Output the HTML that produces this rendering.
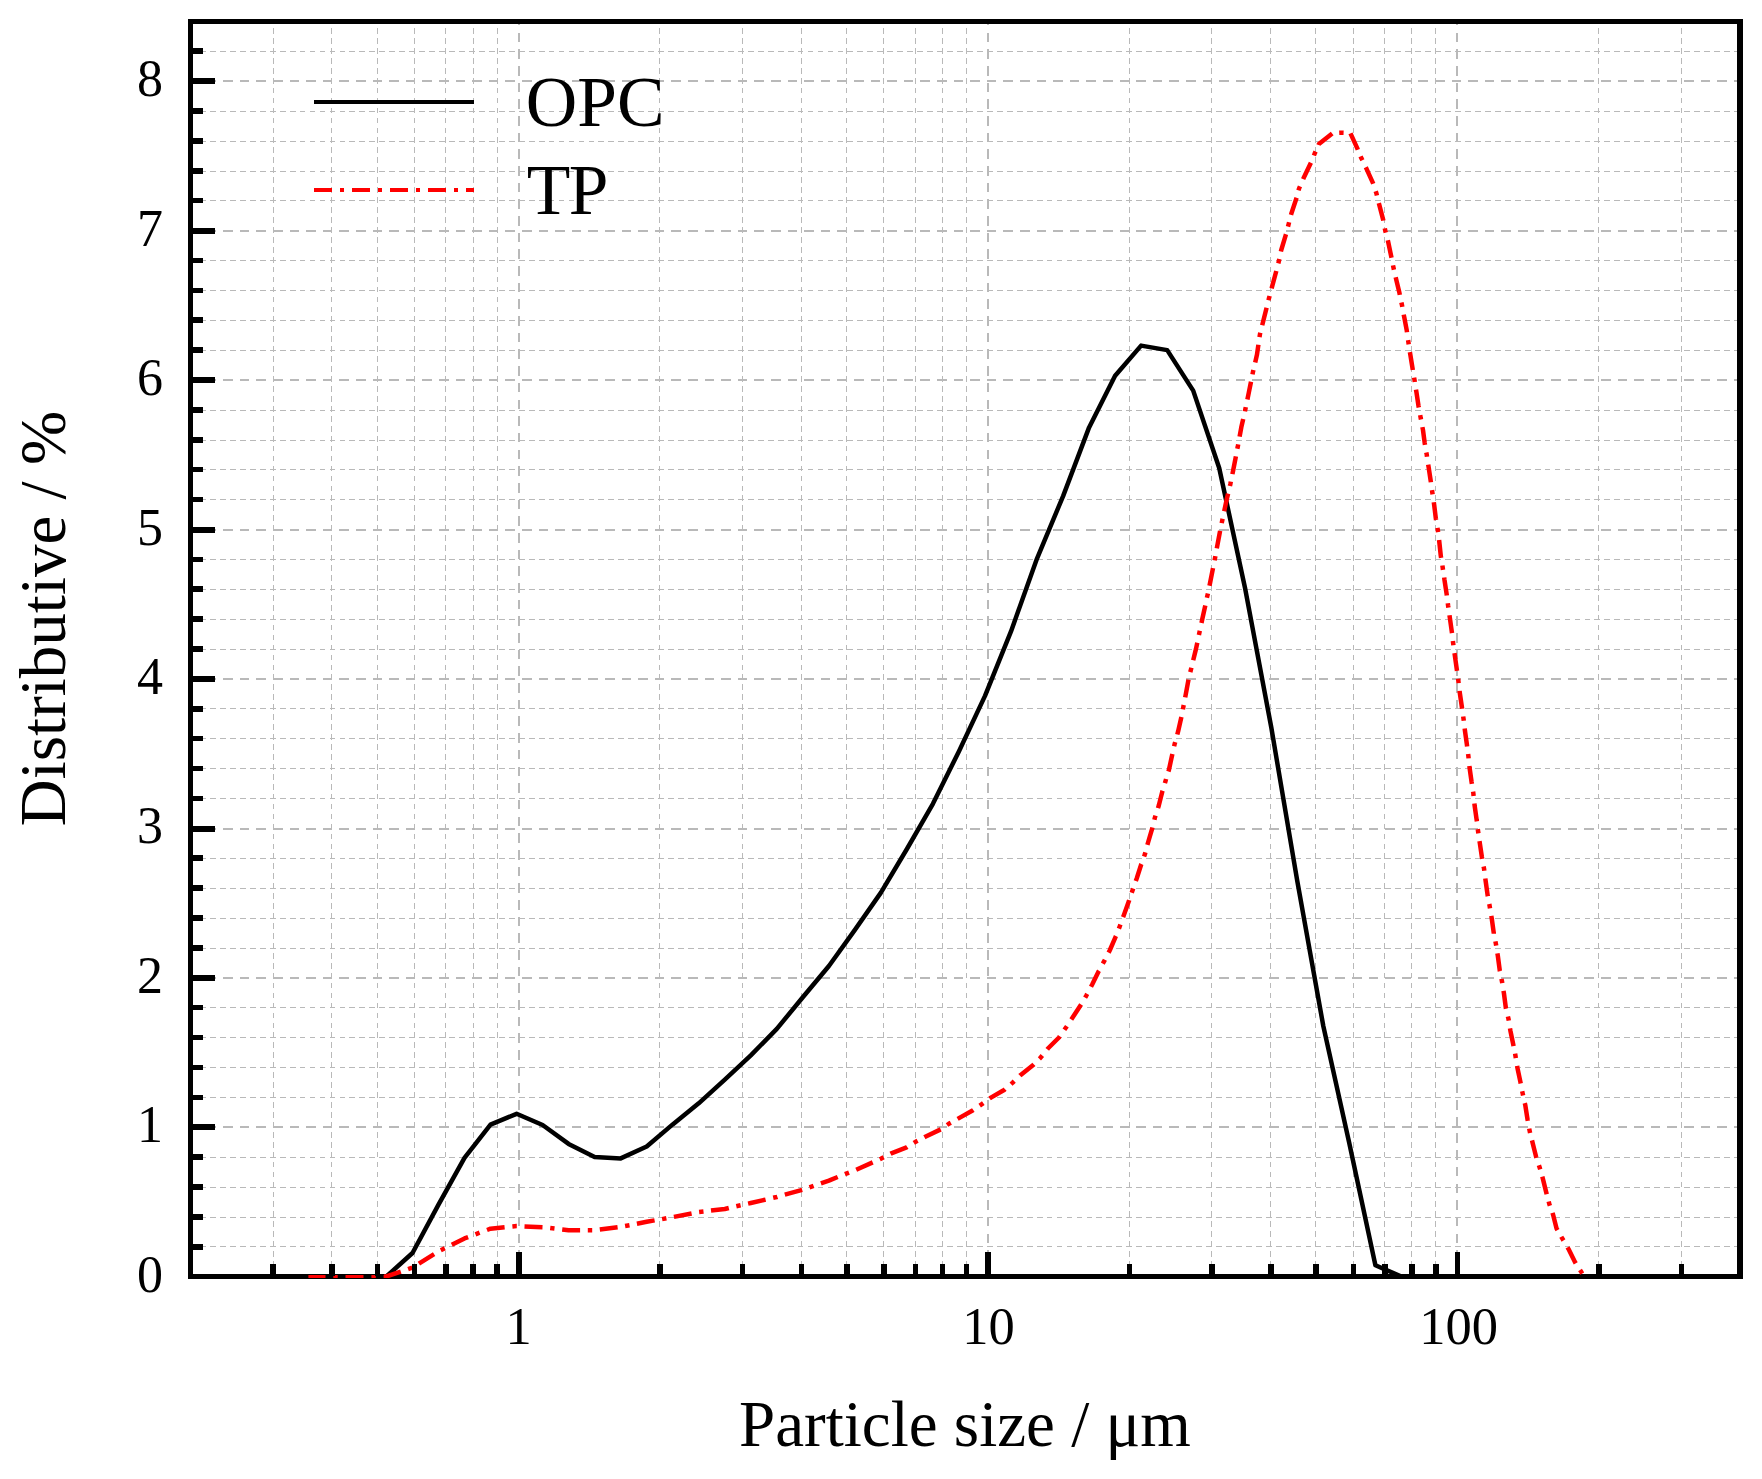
<!DOCTYPE html>
<html lang="en"><head><meta charset="utf-8"><title>Particle size distribution</title>
<style>html,body{margin:0;padding:0;background:#fff}svg{display:block}</style></head>
<body>
<svg width="1762" height="1479" viewBox="0 0 1762 1479">
<rect width="1762" height="1479" fill="#fff"/>
<g stroke="#b9b9b9" fill="none" shape-rendering="crispEdges">
<path d="M190.1,1246.5H1740" stroke-dasharray="5.8 4.16"/>
<path d="M190.1,1217.5H1740" stroke-dasharray="5.8 4.16"/>
<path d="M190.1,1187.5H1740" stroke-dasharray="5.8 4.16"/>
<path d="M190.1,1157.5H1740" stroke-dasharray="5.8 4.16"/>
<path d="M190,1127H1740" stroke-width="2" stroke-dasharray="9.6 7"/>
<path d="M190.1,1097.5H1740" stroke-dasharray="5.8 4.16"/>
<path d="M190.1,1067.5H1740" stroke-dasharray="5.8 4.16"/>
<path d="M190.1,1037.5H1740" stroke-dasharray="5.8 4.16"/>
<path d="M190.1,1007.5H1740" stroke-dasharray="5.8 4.16"/>
<path d="M190,978H1740" stroke-width="2" stroke-dasharray="9.6 7"/>
<path d="M190.1,948.5H1740" stroke-dasharray="5.8 4.16"/>
<path d="M190.1,918.5H1740" stroke-dasharray="5.8 4.16"/>
<path d="M190.1,888.5H1740" stroke-dasharray="5.8 4.16"/>
<path d="M190.1,858.5H1740" stroke-dasharray="5.8 4.16"/>
<path d="M190,829H1740" stroke-width="2" stroke-dasharray="9.6 7"/>
<path d="M190.1,798.5H1740" stroke-dasharray="5.8 4.16"/>
<path d="M190.1,768.5H1740" stroke-dasharray="5.8 4.16"/>
<path d="M190.1,738.5H1740" stroke-dasharray="5.8 4.16"/>
<path d="M190.1,708.5H1740" stroke-dasharray="5.8 4.16"/>
<path d="M190,679H1740" stroke-width="2" stroke-dasharray="9.6 7"/>
<path d="M190.1,649.5H1740" stroke-dasharray="5.8 4.16"/>
<path d="M190.1,619.5H1740" stroke-dasharray="5.8 4.16"/>
<path d="M190.1,589.5H1740" stroke-dasharray="5.8 4.16"/>
<path d="M190.1,559.5H1740" stroke-dasharray="5.8 4.16"/>
<path d="M190,530H1740" stroke-width="2" stroke-dasharray="9.6 7"/>
<path d="M190.1,499.5H1740" stroke-dasharray="5.8 4.16"/>
<path d="M190.1,469.5H1740" stroke-dasharray="5.8 4.16"/>
<path d="M190.1,440.5H1740" stroke-dasharray="5.8 4.16"/>
<path d="M190.1,410.5H1740" stroke-dasharray="5.8 4.16"/>
<path d="M190,380H1740" stroke-width="2" stroke-dasharray="9.6 7"/>
<path d="M190.1,350.5H1740" stroke-dasharray="5.8 4.16"/>
<path d="M190.1,320.5H1740" stroke-dasharray="5.8 4.16"/>
<path d="M190.1,290.5H1740" stroke-dasharray="5.8 4.16"/>
<path d="M190.1,260.5H1740" stroke-dasharray="5.8 4.16"/>
<path d="M190,231H1740" stroke-width="2" stroke-dasharray="9.6 7"/>
<path d="M190.1,200.5H1740" stroke-dasharray="5.8 4.16"/>
<path d="M190.1,171.5H1740" stroke-dasharray="5.8 4.16"/>
<path d="M190.1,141.5H1740" stroke-dasharray="5.8 4.16"/>
<path d="M190.1,111.5H1740" stroke-dasharray="5.8 4.16"/>
<path d="M190,81H1740" stroke-width="2" stroke-dasharray="9.6 7"/>
<path d="M190.1,51.5H1740" stroke-dasharray="5.8 4.16"/>
<path d="M273.5,1276.8V22" stroke-dasharray="5.7 4.244"/>
<path d="M331.5,1276.8V22" stroke-dasharray="5.7 4.244"/>
<path d="M377.5,1276.8V22" stroke-dasharray="5.7 4.244"/>
<path d="M414.5,1276.8V22" stroke-dasharray="5.7 4.244"/>
<path d="M445.5,1276.8V22" stroke-dasharray="5.7 4.244"/>
<path d="M473.5,1276.8V22" stroke-dasharray="5.7 4.244"/>
<path d="M497.5,1276.8V22" stroke-dasharray="5.7 4.244"/>
<path d="M519,1276.5V22" stroke-width="2" stroke-dasharray="9.6 7.08"/>
<path d="M659.5,1276.8V22" stroke-dasharray="5.7 4.244"/>
<path d="M742.5,1276.8V22" stroke-dasharray="5.7 4.244"/>
<path d="M801.5,1276.8V22" stroke-dasharray="5.7 4.244"/>
<path d="M846.5,1276.8V22" stroke-dasharray="5.7 4.244"/>
<path d="M883.5,1276.8V22" stroke-dasharray="5.7 4.244"/>
<path d="M915.5,1276.8V22" stroke-dasharray="5.7 4.244"/>
<path d="M942.5,1276.8V22" stroke-dasharray="5.7 4.244"/>
<path d="M966.5,1276.8V22" stroke-dasharray="5.7 4.244"/>
<path d="M988,1276.5V22" stroke-width="2" stroke-dasharray="9.6 7.08"/>
<path d="M1129.5,1276.8V22" stroke-dasharray="5.7 4.244"/>
<path d="M1211.5,1276.8V22" stroke-dasharray="5.7 4.244"/>
<path d="M1270.5,1276.8V22" stroke-dasharray="5.7 4.244"/>
<path d="M1315.5,1276.8V22" stroke-dasharray="5.7 4.244"/>
<path d="M1353.5,1276.8V22" stroke-dasharray="5.7 4.244"/>
<path d="M1384.5,1276.8V22" stroke-dasharray="5.7 4.244"/>
<path d="M1411.5,1276.8V22" stroke-dasharray="5.7 4.244"/>
<path d="M1435.5,1276.8V22" stroke-dasharray="5.7 4.244"/>
<path d="M1457,1276.5V22" stroke-width="2" stroke-dasharray="9.6 7.08"/>
<path d="M1598.5,1276.8V22" stroke-dasharray="5.7 4.244"/>
<path d="M1681.5,1276.8V22" stroke-dasharray="5.7 4.244"/>
</g>
<g fill="#000" shape-rendering="crispEdges">
<rect x="188" y="19" width="1555" height="5"/>
<rect x="188" y="1274" width="1555" height="5"/>
<rect x="188" y="19" width="5" height="1260"/>
<rect x="1737" y="19" width="6" height="1260"/>
</g>
<clipPath id="c"><rect x="188" y="19" width="1555" height="1259"/></clipPath>
<g clip-path="url(#c)" fill="none" stroke-linejoin="round">
<path d="M386.4,1276.5 L412.5,1253.0 L438.5,1204.6 L464.5,1157.8 L490.5,1124.7 L516.6,1113.8 L542.6,1125.0 L568.6,1143.9 L594.6,1156.9 L620.7,1158.4 L646.7,1146.5 L672.7,1124.4 L698.7,1103.3 L724.8,1079.7 L750.8,1055.3 L776.8,1028.9 L802.8,997.2 L828.9,966.0 L854.9,929.9 L880.9,892.6 L906.9,849.0 L932.9,803.8 L959.0,751.2 L985.0,695.9 L1011.0,631.4 L1037.0,558.6 L1063.1,496.1 L1089.1,427.4 L1115.1,375.7 L1141.1,345.6 L1167.2,350.1 L1193.2,390.6 L1219.2,468.0 L1245.2,588.8 L1271.3,727.5 L1297.3,881.2 L1323.3,1026.0 L1349.3,1143.2 L1375.4,1265.3 L1401.4,1276.5" stroke="#000" stroke-width="4.5"/>
<path d="M308.4,1276.5 L325.5,1276.5 M333.3,1276.5 L334.4,1276.5 L337.7,1276.5 M345.5,1276.5 L360.4,1276.5 L363.5,1276.5 M371.4,1276.5 L375.8,1276.5 M383.6,1276.5 L386.4,1276.5 L400.8,1271.6 M408.1,1269.2 L412.3,1267.7 M418.9,1263.7 L434.1,1254.1 M440.8,1250.2 L444.8,1248.3 M451.8,1244.7 L464.5,1238.4 L468.1,1237.1 M475.5,1234.3 L479.6,1232.7 M487.0,1230.0 L490.5,1228.7 L504.6,1227.2 M512.4,1226.4 L516.6,1226.0 L516.8,1226.0 M524.5,1226.4 L542.5,1227.2 M550.2,1228.1 L554.5,1228.6 M562.2,1229.4 L568.6,1230.2 L580.1,1230.2 M587.8,1230.3 L592.2,1230.3 M599.8,1229.6 L617.6,1227.3 M625.1,1226.0 L629.5,1225.2 M636.9,1223.7 L646.7,1221.8 L654.6,1220.4 M662.1,1219.1 L666.4,1218.3 M673.9,1216.9 L691.6,1213.5 M699.1,1212.0 L703.5,1211.5 M711.0,1210.6 L724.8,1209.0 L728.8,1208.0 M736.3,1206.3 L740.6,1205.3 M748.1,1203.6 L750.8,1203.0 L765.6,1199.6 M773.2,1197.8 L776.8,1197.0 L777.4,1196.8 M784.8,1194.7 L802.2,1189.9 M809.5,1187.4 L813.6,1185.9 M820.9,1183.3 L828.9,1180.6 L837.7,1177.0 M844.9,1174.2 L849.0,1172.6 M856.2,1169.7 L872.7,1162.4 M879.8,1159.2 L880.9,1158.7 L883.7,1157.3 M890.5,1153.7 L891.3,1153.3 L906.6,1147.3 L907.2,1146.9 M913.8,1142.9 L915.6,1141.8 L917.6,1140.8 M924.4,1137.2 L925.3,1136.7 L940.7,1129.4 M947.0,1125.0 L948.8,1123.8 L950.8,1122.7 M957.6,1118.9 L958.5,1118.4 L973.0,1110.2 L973.3,1110.0 M979.7,1105.6 L981.5,1104.4 L983.3,1103.1 M989.6,1098.5 L990.9,1097.6 L1004.5,1089.7 L1005.0,1089.2 M1011.0,1084.1 L1012.7,1082.6 L1014.2,1081.1 M1019.9,1075.7 L1020.7,1074.9 L1033.5,1064.7 L1033.9,1064.3 M1039.4,1058.8 L1040.8,1057.4 L1042.3,1055.5 M1047.3,1049.3 L1047.9,1048.5 L1059.0,1037.5 L1059.8,1036.3 M1064.4,1029.8 L1065.8,1027.8 L1066.9,1026.2 M1071.3,1019.6 L1072.6,1017.6 L1081.1,1004.6 L1081.1,1004.6 M1085.1,997.7 L1086.2,995.8 L1087.2,993.9 M1091.0,986.8 L1092.3,984.3 L1098.8,971.0 L1099.0,970.7 M1102.8,963.6 L1103.9,961.7 L1104.9,959.7 M1108.6,952.6 L1109.7,950.5 L1115.8,936.3 L1115.9,936.1 M1118.9,928.6 L1119.8,926.2 L1120.4,924.5 M1123.1,917.1 L1123.9,915.0 L1129.0,900.8 L1129.2,900.1 M1131.7,892.7 L1132.4,890.7 L1133.2,888.5 M1135.8,881.1 L1136.7,878.5 L1141.1,864.7 L1141.4,864.0 M1144.1,856.6 L1144.8,854.6 L1145.4,852.4 M1147.4,844.8 L1148.2,842.0 L1152.3,828.2 L1152.5,827.5 M1154.4,819.8 L1154.9,817.6 L1155.5,815.6 M1158.0,808.1 L1158.8,805.5 L1162.4,791.3 L1162.6,790.7 M1164.9,783.2 L1165.5,781.1 L1166.1,779.0 M1168.4,771.5 L1168.9,770.0 L1172.2,754.8 L1172.4,754.0 M1174.1,746.3 L1174.6,744.2 L1175.2,742.1 M1177.3,734.5 L1178.1,731.4 L1181.1,718.3 L1181.4,717.0 M1182.9,709.3 L1183.3,707.1 L1183.7,705.0 M1185.2,697.3 L1188.5,679.7 M1190.3,672.1 L1191.4,667.8 M1193.2,660.2 L1196.0,648.9 L1197.3,642.7 M1198.9,635.0 L1199.8,630.7 M1201.5,623.0 L1202.3,619.0 L1205.3,605.4 M1206.9,597.7 L1207.9,593.4 M1209.5,585.8 L1213.0,568.1 M1214.6,560.4 L1214.8,559.2 L1215.4,556.1 M1216.8,548.4 L1220.1,530.8 M1221.7,523.1 L1222.6,518.8 M1224.2,511.2 L1226.7,499.4 L1228.1,493.6 M1229.9,486.0 L1230.4,483.9 L1230.8,481.7 M1232.4,474.1 L1233.2,470.3 L1235.9,456.4 M1237.3,448.7 L1237.7,447.1 L1238.2,444.4 M1239.6,436.6 L1241.3,427.3 L1243.2,419.0 M1244.9,411.4 L1245.4,409.0 L1245.8,407.1 M1247.4,399.5 L1248.8,392.6 L1251.0,381.8 M1252.5,374.3 L1252.9,372.2 L1253.4,370.0 M1255.2,362.4 L1257.0,354.5 L1258.4,344.7 M1259.5,337.1 L1260.0,334.0 L1260.3,332.8 M1262.2,325.2 L1266.6,307.8 M1268.5,300.2 L1268.8,298.9 L1269.6,296.0 M1271.6,288.4 L1276.3,271.0 M1278.3,263.4 L1278.8,261.4 L1279.3,259.1 M1280.9,251.4 L1281.1,250.5 L1285.8,234.8 L1286.0,234.2 M1288.0,226.6 L1288.6,224.2 L1289.1,222.3 M1291.0,214.9 L1291.3,213.7 L1296.6,197.8 M1298.5,190.4 L1299.1,188.3 L1300.0,186.3 M1303.2,179.1 L1303.5,178.3 L1310.9,162.8 M1313.9,155.5 L1314.7,153.5 L1315.6,151.5 M1318.5,145.0 L1318.9,144.0 L1332.2,133.5 M1339.2,132.8 L1341.4,132.7 L1343.6,132.8 M1350.5,133.3 L1357.3,148.4 L1357.8,149.7 M1360.6,156.3 L1361.4,158.3 L1362.4,160.3 M1365.8,167.3 L1366.2,168.1 L1373.0,183.1 L1373.2,183.7 M1375.7,191.2 L1376.4,193.3 L1376.9,195.4 M1378.8,203.1 L1379.1,204.2 L1383.2,219.9 L1383.3,220.6 M1384.8,228.4 L1385.3,230.8 L1385.8,232.6 M1387.8,240.2 L1388.0,241.0 L1391.4,257.3 L1391.5,257.8 M1393.0,265.4 L1393.4,267.3 L1393.9,269.7 M1395.7,277.3 L1396.2,279.4 L1399.3,292.2 L1399.8,294.8 M1401.4,302.5 L1401.9,304.7 L1402.3,306.8 M1403.7,314.6 L1404.3,317.5 L1406.8,330.7 L1407.0,332.3 M1408.1,340.1 L1408.4,342.3 L1408.7,344.4 M1409.9,352.2 L1410.4,355.1 L1412.5,368.2 L1412.8,370.0 M1414.1,377.7 L1414.5,379.8 L1414.8,382.0 M1416.0,389.7 L1416.5,392.6 L1418.5,405.8 L1418.8,407.5 M1420.2,415.1 L1420.6,417.5 L1421.0,419.5 M1422.4,427.1 L1423.0,430.1 L1424.6,442.3 L1425.0,444.9 M1426.3,452.5 L1426.7,454.4 L1427.0,456.8 M1428.2,464.6 L1428.7,467.6 L1430.7,480.8 L1430.9,482.3 M1432.0,490.1 L1432.3,492.4 L1432.6,494.4 M1433.8,502.2 L1434.2,505.1 L1435.8,518.3 L1436.1,520.0 M1437.4,527.8 L1437.8,529.9 L1438.1,532.1 M1439.1,539.9 L1439.4,542.7 L1440.8,555.9 L1441.1,557.8 M1442.4,565.5 L1442.7,567.6 L1443.0,569.9 M1444.2,577.6 L1444.4,579.3 L1446.7,594.5 L1446.8,595.5 M1447.8,603.2 L1448.1,605.6 L1448.4,607.6 M1449.5,615.3 L1449.7,616.8 L1451.7,631.0 L1452.0,633.1 M1452.9,640.9 L1453.1,642.8 L1453.4,645.3 M1454.5,653.1 L1454.8,655.3 L1456.8,669.5 L1457.0,670.9 M1458.1,678.7 L1458.4,681.1 L1458.6,683.1 M1459.6,690.9 L1459.8,692.9 L1461.9,707.1 L1462.1,708.7 M1463.2,716.5 L1463.5,718.6 L1463.8,720.8 M1464.7,728.5 L1464.9,730.4 L1466.9,744.6 L1467.1,746.4 M1468.1,754.0 L1468.4,756.3 L1468.6,758.4 M1469.4,766.1 L1469.6,767.9 L1471.6,782.1 L1471.9,783.9 M1473.1,791.6 L1473.4,793.7 L1473.6,796.0 M1474.4,803.6 L1474.6,805.4 L1476.7,820.2 L1476.9,821.4 M1477.8,829.1 L1478.1,831.4 L1478.4,833.4 M1479.5,841.1 L1479.8,843.0 L1481.9,857.2 L1482.2,858.9 M1483.6,866.5 L1484.0,868.4 L1484.3,870.8 M1485.3,878.5 L1485.6,880.6 L1487.7,895.8 L1487.8,896.3 M1489.3,904.0 L1489.7,906.3 L1490.0,908.3 M1491.3,915.9 L1491.7,918.1 L1493.8,933.3 L1493.8,933.8 M1495.4,941.4 L1495.8,943.4 L1496.2,945.7 M1497.4,953.4 L1497.8,955.6 L1499.8,970.8 L1499.9,971.2 M1501.5,978.8 L1501.9,981.0 L1502.3,983.2 M1503.5,990.9 L1503.9,993.1 L1505.9,1008.4 L1506.0,1008.8 M1507.9,1016.4 L1508.4,1018.5 L1508.8,1020.7 M1510.0,1028.4 L1510.4,1030.7 L1513.4,1045.3 L1513.5,1046.1 M1515.1,1053.7 L1515.5,1056.0 L1515.8,1058.1 M1517.1,1065.8 L1517.5,1068.2 L1520.5,1082.4 L1520.7,1083.5 M1522.2,1091.2 L1522.6,1093.1 L1523.1,1095.5 M1524.8,1103.1 L1525.2,1104.7 L1527.6,1119.9 L1527.8,1120.9 M1529.2,1128.6 L1529.7,1131.1 L1530.1,1132.9 M1532.0,1140.4 L1534.4,1150.0 L1536.1,1156.8 L1536.4,1157.8 M1538.9,1165.2 L1539.5,1167.0 L1540.2,1169.4 M1542.3,1176.7 L1542.9,1178.9 L1546.3,1192.6 L1546.7,1194.2 M1548.7,1201.5 L1549.3,1204.1 L1549.9,1205.8 M1552.5,1212.9 L1553.1,1214.7 L1556.5,1228.3 L1557.5,1230.1 M1561.3,1236.7 L1562.1,1238.2 L1563.5,1240.5 M1567.5,1247.3 L1568.4,1248.8 L1575.2,1262.4 L1575.7,1263.3 M1580.0,1269.9 L1581.2,1271.7 L1582.2,1273.6" stroke="#f00" stroke-width="4.5"/>
</g>
<g fill="#000" shape-rendering="crispEdges">
<rect x="300" y="1274" width="84" height="1"/>
<rect x="190" y="1244.01" width="13" height="5.5"/>
<rect x="190" y="1214.12" width="13" height="5.5"/>
<rect x="190" y="1184.24" width="13" height="5.5"/>
<rect x="190" y="1154.35" width="13" height="5.5"/>
<rect x="190" y="1124" width="25" height="6"/>
<rect x="190" y="1094.57" width="13" height="5.5"/>
<rect x="190" y="1064.68" width="13" height="5.5"/>
<rect x="190" y="1034.80" width="13" height="5.5"/>
<rect x="190" y="1004.91" width="13" height="5.5"/>
<rect x="190" y="975" width="25" height="6"/>
<rect x="190" y="945.13" width="13" height="5.5"/>
<rect x="190" y="915.24" width="13" height="5.5"/>
<rect x="190" y="885.36" width="13" height="5.5"/>
<rect x="190" y="855.47" width="13" height="5.5"/>
<rect x="190" y="826" width="25" height="6"/>
<rect x="190" y="795.69" width="13" height="5.5"/>
<rect x="190" y="765.80" width="13" height="5.5"/>
<rect x="190" y="735.92" width="13" height="5.5"/>
<rect x="190" y="706.03" width="13" height="5.5"/>
<rect x="190" y="676" width="25" height="6"/>
<rect x="190" y="646.25" width="13" height="5.5"/>
<rect x="190" y="616.36" width="13" height="5.5"/>
<rect x="190" y="586.48" width="13" height="5.5"/>
<rect x="190" y="556.59" width="13" height="5.5"/>
<rect x="190" y="527" width="25" height="6"/>
<rect x="190" y="496.81" width="13" height="5.5"/>
<rect x="190" y="466.92" width="13" height="5.5"/>
<rect x="190" y="437.04" width="13" height="5.5"/>
<rect x="190" y="407.15" width="13" height="5.5"/>
<rect x="190" y="377" width="25" height="6"/>
<rect x="190" y="347.37" width="13" height="5.5"/>
<rect x="190" y="317.48" width="13" height="5.5"/>
<rect x="190" y="287.60" width="13" height="5.5"/>
<rect x="190" y="257.71" width="13" height="5.5"/>
<rect x="190" y="228" width="25" height="6"/>
<rect x="190" y="197.93" width="13" height="5.5"/>
<rect x="190" y="168.04" width="13" height="5.5"/>
<rect x="190" y="138.16" width="13" height="5.5"/>
<rect x="190" y="108.27" width="13" height="5.5"/>
<rect x="190" y="78" width="25" height="6"/>
<rect x="190" y="48.49" width="13" height="5.5"/>
<rect x="270.46" y="1264" width="5.6" height="12"/>
<rect x="329.11" y="1264" width="5.6" height="12"/>
<rect x="374.60" y="1264" width="5.6" height="12"/>
<rect x="411.76" y="1264" width="5.6" height="12"/>
<rect x="443.19" y="1264" width="5.6" height="12"/>
<rect x="470.41" y="1264" width="5.6" height="12"/>
<rect x="494.42" y="1264" width="5.6" height="12"/>
<rect x="515.90" y="1252" width="5.6" height="24"/>
<rect x="657.20" y="1264" width="5.6" height="12"/>
<rect x="739.86" y="1264" width="5.6" height="12"/>
<rect x="798.51" y="1264" width="5.6" height="12"/>
<rect x="844.00" y="1264" width="5.6" height="12"/>
<rect x="881.16" y="1264" width="5.6" height="12"/>
<rect x="912.59" y="1264" width="5.6" height="12"/>
<rect x="939.81" y="1264" width="5.6" height="12"/>
<rect x="963.82" y="1264" width="5.6" height="12"/>
<rect x="985.30" y="1252" width="5.6" height="24"/>
<rect x="1126.60" y="1264" width="5.6" height="12"/>
<rect x="1209.26" y="1264" width="5.6" height="12"/>
<rect x="1267.91" y="1264" width="5.6" height="12"/>
<rect x="1313.40" y="1264" width="5.6" height="12"/>
<rect x="1350.56" y="1264" width="5.6" height="12"/>
<rect x="1381.99" y="1264" width="5.6" height="12"/>
<rect x="1409.21" y="1264" width="5.6" height="12"/>
<rect x="1433.22" y="1264" width="5.6" height="12"/>
<rect x="1454.70" y="1252" width="5.6" height="24"/>
<rect x="1596.00" y="1264" width="5.6" height="12"/>
<rect x="1678.66" y="1264" width="5.6" height="12"/>
</g>
<line x1="314" x2="473.5" y1="102" y2="102" stroke="#000" stroke-width="4" shape-rendering="crispEdges"/>
<line x1="314" x2="473.5" y1="190" y2="190" stroke="#f00" stroke-width="4" stroke-dasharray="18 8 4 8" shape-rendering="crispEdges"/>
<text x="525.8" y="126" font-size="71.3" font-family="'Liberation Serif', 'Times New Roman', serif" fill="#000">OPC</text>
<text x="526.8" y="213.8" font-size="71.3" letter-spacing="-1.5" font-family="'Liberation Serif', 'Times New Roman', serif" fill="#000">TP</text>
<text x="163" y="1291.7" font-size="52" text-anchor="end" font-family="'Liberation Serif', 'Times New Roman', serif" fill="#000">0</text>
<text x="163" y="1142.3" font-size="52" text-anchor="end" font-family="'Liberation Serif', 'Times New Roman', serif" fill="#000">1</text>
<text x="163" y="992.8" font-size="52" text-anchor="end" font-family="'Liberation Serif', 'Times New Roman', serif" fill="#000">2</text>
<text x="163" y="843.4" font-size="52" text-anchor="end" font-family="'Liberation Serif', 'Times New Roman', serif" fill="#000">3</text>
<text x="163" y="693.9" font-size="52" text-anchor="end" font-family="'Liberation Serif', 'Times New Roman', serif" fill="#000">4</text>
<text x="163" y="544.5" font-size="52" text-anchor="end" font-family="'Liberation Serif', 'Times New Roman', serif" fill="#000">5</text>
<text x="163" y="395.1" font-size="52" text-anchor="end" font-family="'Liberation Serif', 'Times New Roman', serif" fill="#000">6</text>
<text x="163" y="245.6" font-size="52" text-anchor="end" font-family="'Liberation Serif', 'Times New Roman', serif" fill="#000">7</text>
<text x="163" y="96.2" font-size="52" text-anchor="end" font-family="'Liberation Serif', 'Times New Roman', serif" fill="#000">8</text>
<text x="518.5" y="1344" font-size="52.5" text-anchor="middle" font-family="'Liberation Serif', 'Times New Roman', serif" fill="#000">1</text>
<text x="988.6" y="1344" font-size="52.5" text-anchor="middle" font-family="'Liberation Serif', 'Times New Roman', serif" fill="#000">10</text>
<text x="1458.7" y="1344" font-size="52.5" text-anchor="middle" font-family="'Liberation Serif', 'Times New Roman', serif" fill="#000">100</text>
<text x="965" y="1445.8" font-size="65" text-anchor="middle" font-family="'Liberation Serif', 'Times New Roman', serif" fill="#000">Particle size / μm</text>
<text transform="translate(65.3,618.6) rotate(-90)" font-size="65" text-anchor="middle" font-family="'Liberation Serif', 'Times New Roman', serif" fill="#000">Distributive / %</text>
</svg>
</body></html>
